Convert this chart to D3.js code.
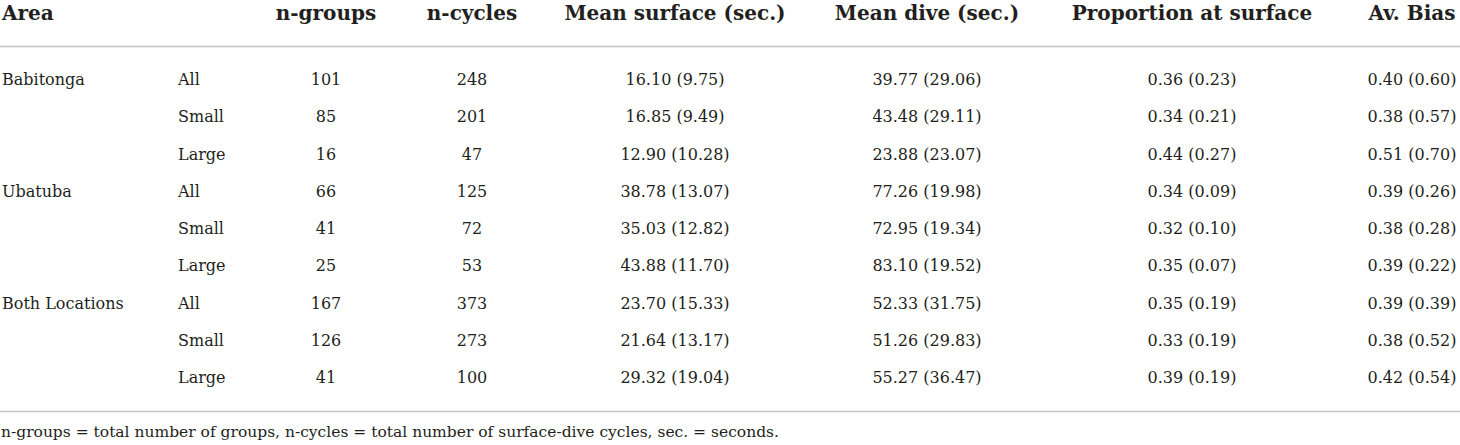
<!DOCTYPE html>
<html>
<head>
<meta charset="utf-8">
<script src="https://cdn.jsdelivr.net/npm/d3@7"></script>
<style>
    html, body { margin: 0; padding: 0; background: #fff; }
    svg text { font-family: "DejaVu Serif", serif; fill: #231f20; }
</style>
</head>
<body>
<svg id="table" width="1460" height="445"></svg>
<script>
// Table data
const headers = ["Area", "", "n-groups", "n-cycles", "Mean surface (sec.)", "Mean dive (sec.)", "Proportion at surface", "Av. Bias"];
const areas = ["Babitonga", "", "", "Ubatuba", "", "", "Both Locations", "", ""];
const sizes = ["All", "Small", "Large", "All", "Small", "Large", "All", "Small", "Large"];
const nGroups = [101, 85, 16, 66, 41, 25, 167, 126, 41];
const nCycles = [248, 201, 47, 125, 72, 53, 373, 273, 100];
const meanSurface = [16.10, 16.85, 12.90, 38.78, 35.03, 43.88, 23.70, 21.64, 29.32];
const meanSurfaceSd = [9.75, 9.49, 10.28, 13.07, 12.82, 11.70, 15.33, 13.17, 19.04];
const meanDive = [39.77, 43.48, 23.88, 77.26, 72.95, 83.10, 52.33, 51.26, 55.27];
const meanDiveSd = [29.06, 29.11, 23.07, 19.98, 19.34, 19.52, 31.75, 29.83, 36.47];
const propSurface = [0.36, 0.34, 0.44, 0.34, 0.32, 0.35, 0.35, 0.33, 0.39];
const propSurfaceSd = [0.23, 0.21, 0.27, 0.09, 0.10, 0.07, 0.19, 0.19, 0.19];
const avBias = [0.40, 0.38, 0.51, 0.39, 0.38, 0.39, 0.39, 0.38, 0.42];
const avBiasSd = [0.60, 0.57, 0.70, 0.26, 0.28, 0.22, 0.39, 0.52, 0.54];
const footnote = "n-groups = total number of groups, n-cycles = total number of surface-dive cycles, sec. = seconds.";

const fmt = d3.format(".2f");
const withSd = (m, s) => m.map((v, i) => `${fmt(v)} (${fmt(s[i])})`);

// Columns: x position and anchor
const columns = [
    { x: 2,    anchor: "start",  values: areas },
    { x: 178,  anchor: "start",  values: sizes },
    { x: 326,  anchor: "middle", values: nGroups.map(String) },
    { x: 472,  anchor: "middle", values: nCycles.map(String) },
    { x: 675,  anchor: "middle", values: withSd(meanSurface, meanSurfaceSd) },
    { x: 927,  anchor: "middle", values: withSd(meanDive, meanDiveSd) },
    { x: 1192, anchor: "middle", values: withSd(propSurface, propSurfaceSd) },
    { x: 1412, anchor: "middle", values: withSd(avBias, avBiasSd) }
];

const svg = d3.select("#table");
const y = d3.scalePoint().domain(d3.range(sizes.length)).range([85, 383]);

// Header
svg.append("g").selectAll("text")
    .data(columns)
    .join("text")
    .attr("x", d => d.x)
    .attr("y", 20)
    .attr("text-anchor", d => d.anchor)
    .style("font-size", "20px")
    .style("font-weight", "bold")
    .text((d, i) => headers[i]);

// Rules
const rule = (yy) => svg.append("line")
    .attr("x1", 0).attr("x2", 1460)
    .attr("y1", yy).attr("y2", yy)
    .style("stroke", "#c4c4c4")
    .style("stroke-width", 1.5);
rule(46.5);
rule(411.5);

// Body cells
columns.forEach(col => {
    svg.append("g").selectAll("text")
        .data(col.values)
        .join("text")
        .attr("x", col.x)
        .attr("y", (d, i) => y(i))
        .attr("text-anchor", col.anchor)
        .style("font-size", "16px")
        .text(d => d);
});

// Footnote
svg.append("text")
    .attr("x", 1)
    .attr("y", 437)
    .style("font-size", "15.5px")
    .text(footnote);
</script>
</body>
</html>
